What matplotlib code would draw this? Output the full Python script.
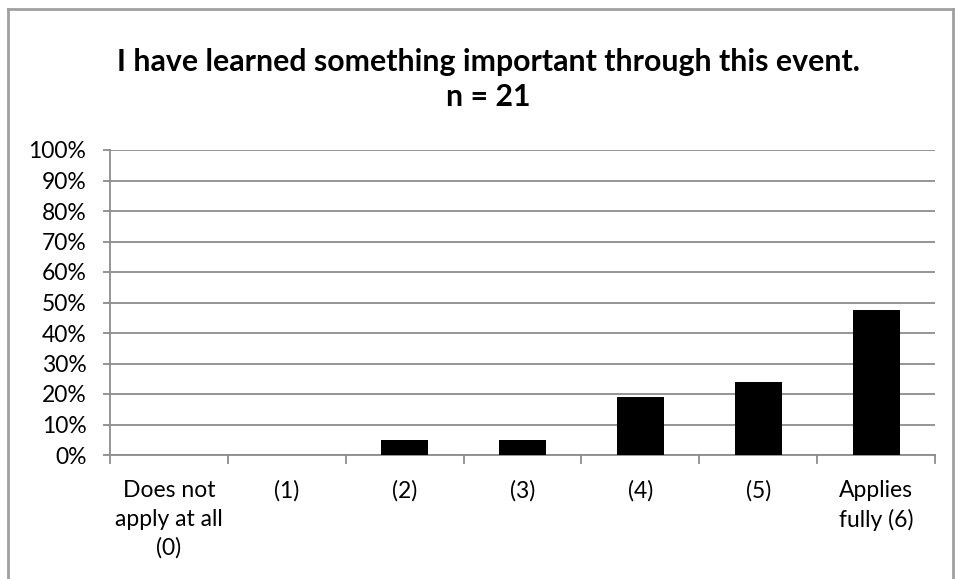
import numpy as np
import matplotlib.pyplot as plt
from matplotlib.lines import Line2D

categories = ['Does not\napply at all\n(0)', '(1)', '(2)', '(3)', '(4)', '(5)', 'Applies\nfully (6)']
counts = [0, 0, 1, 1, 4, 5, 10]
n_total = 21
shares = [c / n_total for c in counts]
y_ticks = list(range(0, 101, 10))

plt.rcParams['font.family'] = ['Lato', 'DejaVu Sans']

fig = plt.figure(figsize=(9.55, 5.79), dpi=100)
W, H = 955, 579
ax = fig.add_axes([110 / W, 1 - 455 / H, (935 - 110) / W, (455 - 150) / H])

x = np.arange(len(categories))
ax.bar(x, shares, width=0.4, color='black', zorder=3)

ax.set_xlim(-0.5, len(categories) - 0.5)
ax.set_ylim(0, 1)
ax.set_yticks([v / 100 for v in y_ticks])
ax.set_yticklabels([f'{v}%' for v in y_ticks], fontsize=16.5)
ax.yaxis.grid(True, color='#8c8c8c', linewidth=1.3)
ax.set_axisbelow(True)

# category labels centred, tick marks on the category borders
ax.set_xticks(x)
ax.set_xticklabels(categories, fontsize=16.5, linespacing=1.45, va='top')
ax.tick_params(axis='x', length=0, pad=18)
for b in np.arange(-0.5, len(categories), 1.0):
    ax.add_line(Line2D([b, b], [0, -0.025], color='#8c8c8c', linewidth=1.3,
                       transform=ax.transData, clip_on=False))
ax.tick_params(axis='y', length=5, width=1.3, color='#8c8c8c', pad=12)

for side in ['top', 'right']:
    ax.spines[side].set_visible(False)
for side in ['left', 'bottom']:
    ax.spines[side].set_color('#8c8c8c')
    ax.spines[side].set_linewidth(1.3)

fig.text(488 / W, 1 - 62 / H, 'I have learned something important through this event.',
         ha='center', va='center', fontsize=21.8, fontweight='bold')
fig.text(488 / W, 1 - 97 / H, f'n = {n_total}',
         ha='center', va='center', fontsize=21.8, fontweight='bold')

# chart area border
fig.add_artist(Line2D([8 / W, 8 / W], [0, 1 - 9 / H], color='#a0a0a0', linewidth=2, transform=fig.transFigure))
fig.add_artist(Line2D([8 / W, 953 / W], [1 - 9 / H, 1 - 9 / H], color='#a0a0a0', linewidth=2, transform=fig.transFigure))
fig.add_artist(Line2D([953 / W, 953 / W], [0, 1 - 9 / H], color='#a0a0a0', linewidth=2, transform=fig.transFigure))

fig.savefig('out.png', dpi=100)
